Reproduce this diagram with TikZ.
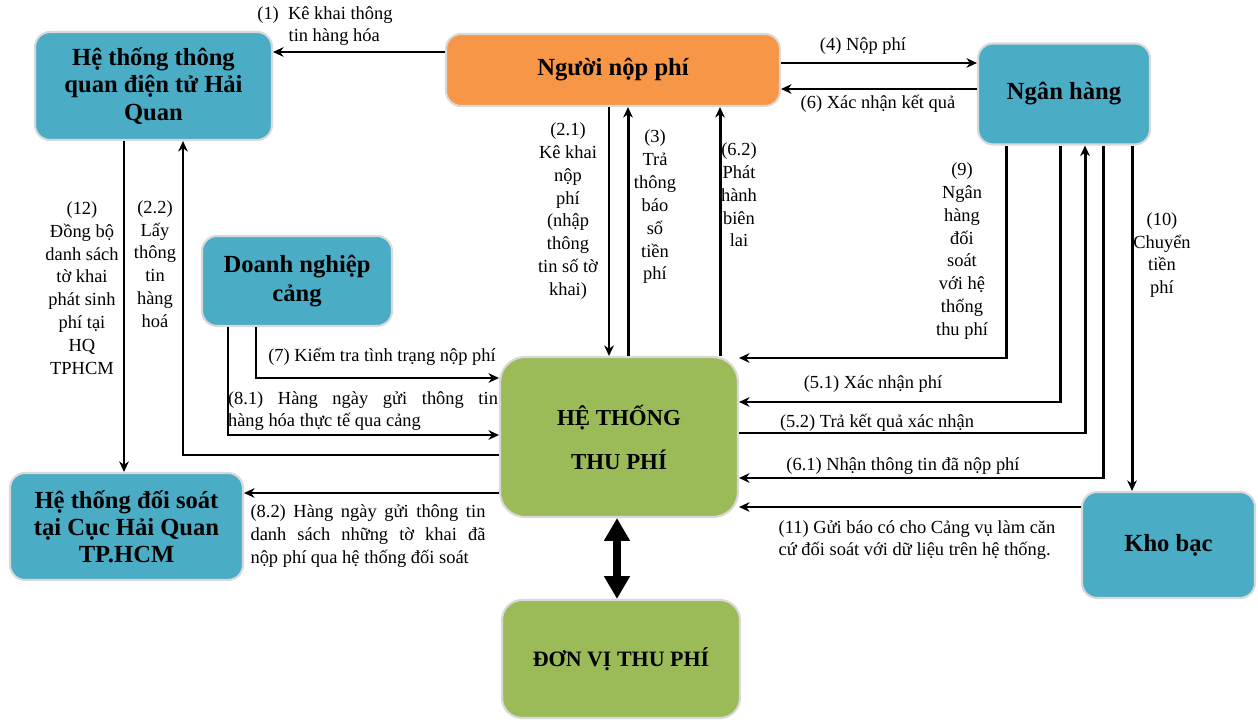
\documentclass[tikz,border=0pt]{standalone}
\usepackage{fontspec}
\setmainfont{Liberation Serif}
\usetikzlibrary{arrows.meta}
\definecolor{hqblue}{HTML}{4BACC6}
\definecolor{payorange}{HTML}{F79646}
\definecolor{feegreen}{HTML}{9BBB59}

\begin{document}
\begin{tikzpicture}[x=0.02cm, y=-0.02cm, >={Stealth[length=6pt,width=5.5pt]},
  every box/.style={rounded corners=0.3cm, draw=black!15, line width=1.2pt,
    align=center, inner sep=2pt, font=\fontsize{14}{15.5}\selectfont\bfseries},
  blue box/.style={every box, fill=hqblue},
  flow/.style={->, line width=1.7pt},
  flow label/.style={align=center, inner sep=0pt, font=\fontsize{10.5}{13}\selectfont}
]
\useasboundingbox (0,0) rectangle (1258,722);

% boxes
\node [blue box, minimum width=4.74cm, minimum height=2.16cm] (hq) at (153.5,86)
  {Hệ thống thông\\quan điện tử Hải\\Quan};
\node [every box, fill=payorange, minimum width=6.68cm, minimum height=1.44cm] (nnp) at (613,70)
  {Người nộp phí};
\node [blue box, minimum width=3.44cm, minimum height=2.02cm] (nh) at (1064,94)
  {Ngân hàng};
\node [blue box, minimum width=3.8cm, minimum height=1.8cm, font=\fontsize{14}{17}\selectfont\bfseries] (dn) at (297,281)
  {Doanh nghiệp\\cảng};
\node [every box, fill=feegreen, rounded corners=0.5cm, minimum width=4.76cm, minimum height=3.2cm,
  font=\fontsize{13}{25}\selectfont\bfseries] (htp) at (619,437)
  {HỆ THỐNG\\THU PHÍ};
\node [blue box, minimum width=4.66cm, minimum height=2.14cm] (ds) at (126.5,526.5)
  {Hệ thống đối soát\\tại Cục Hải Quan\\TP.HCM};
\node [blue box, minimum width=3.46cm, minimum height=2.12cm] (kb) at (1168.5,545)
  {Kho bạc};
\node [every box, fill=feegreen, rounded corners=0.4cm, minimum width=4.76cm, minimum height=2.36cm,
  font=\fontsize{12.5}{15}\selectfont\bfseries] (dv) at (621,659)
  {ĐƠN VỊ THU PHÍ};

% top row
\draw [flow] (nnp.west |- 0,52) -- (hq.east |- 0,52);
\draw [flow] (nnp.east |- 0,63) -- (nh.west |- 0,63);
\draw [flow] (nh.west |- 0,89) -- (nnp.east |- 0,89);
% payer <-> fee system
\draw [flow] (609,0 |- nnp.south) -- (609,0 |- htp.north);
\foreach \x in {628,720}
  \draw [flow] (\x,0 |- htp.north) -- (\x,0 |- nnp.south);
% bank -> fee system
\foreach \x/\y in {1006/358,1060/402,1103/478}
  \draw [flow] (\x,0 |- nh.south) |- (htp.east |- 0,\y);
\draw [flow] (htp.east |- 0,433) -| (1085,0 |- nh.south);
\draw [flow] (1132,0 |- nh.south) -- (1132,0 |- kb.north);
\draw [flow] (kb.west |- 0,507) -- (htp.east |- 0,507);
% port company -> fee system
\draw [flow] (256,0 |- dn.south) |- (htp.west |- 0,378);
\draw [flow] (228,0 |- dn.south) |- (htp.west |- 0,435);
% customs
\draw [flow] (htp.west |- 0,455) -| (183,0 |- hq.south);
\draw [flow] (124,0 |- hq.south) -- (124,0 |- ds.north);
\draw [flow] (htp.west |- 0,493) -- (ds.east |- 0,493);
% fee unit
\draw [{Triangle[length=13pt,width=14pt]}-{Triangle[length=13pt,width=14pt]}, line width=4pt]
  (617,0 |- htp.south) -- (617,0 |- dv.north);

% labels
\node [flow label] (l1) at (325,26) {(1)~ Kê khai thông\\\quad tin hàng hóa};
\node [flow label] (l4) at (863,46) {(4) Nộp phí};
\node [flow label] (l6) at (878,104) {(6) Xác nhận kết quả};
\node [flow label] (l21) at (568,211) {(2.1)\\Kê khai\\nộp\\phí\\(nhập\\thông\\tin số tờ\\khai)};
\node [flow label] (l3) at (655,207) {(3)\\Trả\\thông\\báo\\số\\tiền\\phí};
\node [flow label] (l62) at (739,195) {(6.2)\\Phát\\hành\\biên\\lai};
\node [flow label] (l9) at (962,251) {(9)\\Ngân\\hàng\\đối\\soát\\với hệ\\thống\\thu phí};
\node [flow label] (l10) at (1162,255) {(10)\\Chuyển\\tiền\\phí};
\node [flow label] (l51) at (873,384) {(5.1) Xác nhận phí};
\node [flow label] (l52) at (877,423) {(5.2) Trả kết quả xác nhận};
\node [flow label] (l61) at (903,466) {(6.1) Nhận thông tin đã nộp phí};
\node [flow label, align=left] (l11) at (917,540) {(11) Gửi báo có cho Cảng vụ làm căn\\cứ đối soát với dữ liệu trên hệ thống.};
\node [flow label] (l7) at (382,357) {(7) Kiểm tra tình trạng nộp phí};
\node [flow label, text width=5.4cm, align=justify] (l81) at (363,411)
  {(8.1) Hàng ngày gửi thông tin\linebreak hàng hóa thực tế qua cảng};
\node [flow label, text width=4.7cm, align=justify] (l82) at (368,536)
  {(8.2) Hàng ngày gửi thông tin\linebreak danh sách những tờ khai đã\linebreak nộp phí qua hệ thống đối soát};
\node [flow label] (l22) at (155,264) {(2.2)\\Lấy\\thông\\tin\\hàng\\hoá};
\node [flow label] (l12) at (82,288) {(12)\\Đồng bộ\\danh sách\\tờ khai\\phát sinh\\phí tại\\HQ\\TPHCM};
\end{tikzpicture}
\end{document}
